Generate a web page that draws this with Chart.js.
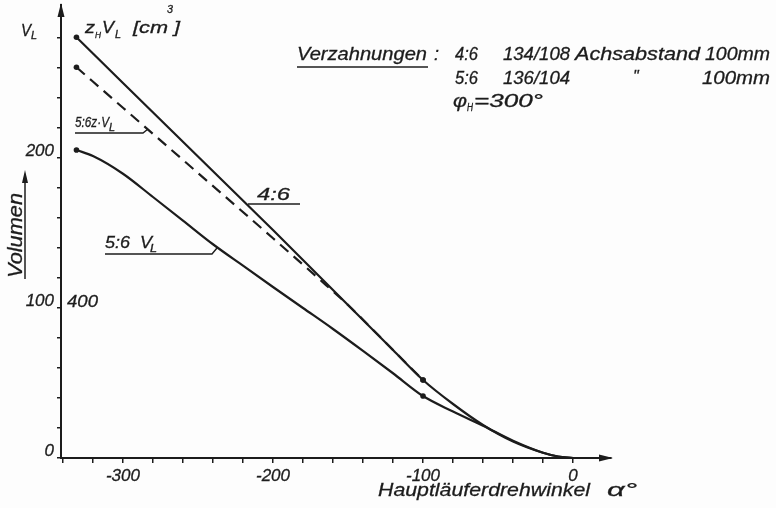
<!DOCTYPE html>
<html>
<head>
<meta charset="utf-8">
<script src="https://cdn.jsdelivr.net/npm/chart.js@4.4.1/dist/chart.umd.min.js"></script>
<style>
  html, body { margin: 0; padding: 0; background: #fdfdfd; }
  #wrap { width: 776px; height: 508px; }
</style>
</head>
<body>
<div id="wrap"><canvas id="chart" width="776" height="508"></canvas></div>
<script>
// Hauptläuferdrehwinkel α° -> Volumen V_L
const alpha46 = [-331, -300, -250, -200, -150, -120, -100, -80, -60, -40, -20, -10, 0];
const vl46    = [280.5, 250, 201, 152, 102, 72, 52, 36, 22, 11, 3.5, 1, 0];

// 5:6 z·V_L (dashed), runs into the 4:6 curve near -145
const alphaDash = [-331, -300, -250, -200, -170, -150, -120, -100];
const zvl56     = [260.5, 233.5, 190, 146.5, 120, 102, 72, 52];

// 5:6 V_L
const alpha56 = [-331, -320, -300, -280, -260, -240, -220, -200, -180, -160, -140, -120, -100, -80, -60, -40, -20, -10, 0];
const vl56    = [205.3, 201.3, 189.5, 174, 158.3, 142.5, 128.2, 114, 100, 86, 71.4, 56.5, 41.3, 31, 21.5, 11.5, 3.5, 1, 0];

const markAlpha = [-100];  // dots on the curves besides the start points

const xTickMarks = [-340, -320, -300, -280, -260, -240, -220, -200, -180, -160, -140, -120, -100, -80, -60, -40, -20, 0];
const yTickMarks = [0, 20, 40, 60, 80, 100, 120, 140, 160, 180, 200, 220, 240, 260, 280];
const xTickLabels = [-300, -200, -100, 0];
const yTickLabels = [0, 100, 200];

const INK = '#1c1c1c';
const FONT = '"Liberation Sans", Arial, sans-serif';

const pts = (xs, ys) => xs.map((x, i) => ({ x, y: ys[i] }));
const dotAt = (c) => (c.dataIndex === 0 || markAlpha.includes(c.raw.x)) ? 2.8 : 0;

// text squeezed/stretched to the width it has in the drawing
function txt(ctx, s, x, y, w, size) {
    ctx.font = `italic ${size}px ${FONT}`;
    const m = ctx.measureText(s).width;
    ctx.save();
    ctx.translate(x, y);
    if (w) ctx.scale(w / m, 1);
    ctx.lineWidth = 0.3;
    ctx.fillText(s, 0, 0);
    ctx.strokeText(s, 0, 0);
    ctx.restore();
}

function poly(ctx, p) {
    ctx.beginPath();
    ctx.moveTo(p[0][0], p[0][1]);
    for (let i = 1; i < p.length; i++) ctx.lineTo(p[i][0], p[i][1]);
    ctx.stroke();
}

function tri(ctx, p) {
    ctx.beginPath();
    ctx.moveTo(p[0][0], p[0][1]);
    ctx.lineTo(p[1][0], p[1][1]);
    ctx.lineTo(p[2][0], p[2][1]);
    ctx.closePath();
    ctx.fill();
}

// no extra room for the outer tick labels, the plot box is fixed
function fixBox(size, key) {
    return (s) => {
        s[key] = size;
        s.paddingTop = s.paddingBottom = s.paddingLeft = s.paddingRight = 0;
    };
}

const annot = {
    id: 'annot',
    afterDraw(chart) {
        const ctx = chart.ctx;
        const a = chart.chartArea;
        const ys = chart.scales.y;
        ctx.save();
        ctx.fillStyle = INK;
        ctx.strokeStyle = INK;
        ctx.lineWidth = 1.4;
        ctx.textBaseline = 'alphabetic';

        // axis arrows
        tri(ctx, [[a.left, a.top - 2], [a.left - 3.5, a.top + 12], [a.left + 3.5, a.top + 12]]);
        tri(ctx, [[a.right + 2, a.bottom], [a.right - 12, a.bottom - 3.5], [a.right - 12, a.bottom + 3.5]]);

        // axis heads
        txt(ctx, 'V', 21, 36, 10, 16);
        txt(ctx, 'L', 31, 39, 6, 10);
        txt(ctx, 'z', 85, 33, 10, 16);
        txt(ctx, 'H', 95, 38, 6, 9);
        txt(ctx, 'V', 102, 33, 12, 16);
        txt(ctx, 'L', 115, 38, 6, 10);
        txt(ctx, '[cm', 133, 33, 35, 17);
        txt(ctx, '3', 167, 13, 6, 11);
        txt(ctx, ']', 174, 33, 6, 17);

        // second scale (z_H V_L)
        txt(ctx, '400', 67, ys.getPixelForValue(100) - 1, 31, 17);

        // gear data block
        ctx.lineWidth = 1.4;
        txt(ctx, 'Verzahnungen', 297, 60, 130, 18);
        poly(ctx, [[297, 67], [428, 67]]);
        txt(ctx, ':', 434, 60, 0, 18);
        txt(ctx, '4:6', 455, 60, 23, 18);
        txt(ctx, '134/108', 503, 60, 67, 18);
        txt(ctx, 'Achsabstand', 575, 60, 125, 18);
        txt(ctx, '100mm', 705, 60, 65, 18);
        txt(ctx, '5:6', 455, 84, 23, 18);
        txt(ctx, '136/104', 503, 84, 67, 18);
        txt(ctx, '"', 633, 82, 0, 16);
        txt(ctx, '100mm', 702, 84, 68, 18);
        txt(ctx, 'φ', 453, 107, 14, 19);
        txt(ctx, 'H', 467, 111, 6, 10);
        txt(ctx, '=300°', 474, 107, 69, 18);

        // curve labels with leader lines
        ctx.lineWidth = 1.4;
        txt(ctx, '5:6z·V', 75, 127, 34, 15);
        txt(ctx, 'L', 109, 131, 6, 10);
        poly(ctx, [[75, 133], [143, 133], [148, 129]]);

        txt(ctx, '4:6', 257, 200, 33, 17);
        poly(ctx, [[248, 204], [300, 204]]);

        txt(ctx, '5:6  V', 105, 248, 47, 17);
        txt(ctx, 'L', 150, 252, 7, 10);
        poly(ctx, [[105, 254], [212, 254], [217, 248]]);

        // axis titles
        txt(ctx, 'Hauptläuferdrehwinkel', 378, 496, 212, 19);
        txt(ctx, 'α°', 607, 496, 30, 19);

        ctx.save();
        ctx.translate(22, 278);
        ctx.rotate(-Math.PI / 2);
        txt(ctx, 'Volumen', 0, 0, 85, 20);
        ctx.restore();
        ctx.lineWidth = 1.5;
        poly(ctx, [[25, 279], [25, 180]]);
        tri(ctx, [[25, 170], [22, 183], [28, 183]]);

        ctx.restore();
    }
};

const lineStyle = {
    borderColor: INK,
    backgroundColor: INK,
    borderWidth: 2.2,
    pointRadius: dotAt,
    pointHoverRadius: dotAt,
    pointBorderWidth: 0,
    cubicInterpolationMode: 'monotone',
    fill: false
};

const tickFont = { family: FONT, size: 17, style: 'italic' };

new Chart(document.getElementById('chart').getContext('2d'), {
    type: 'line',
    plugins: [annot],
    data: {
        datasets: [
            { label: '4:6', data: pts(alpha46, vl46), ...lineStyle },
            { label: '5:6 z·V_L', data: pts(alphaDash, zvl56), ...lineStyle, borderDash: [11, 7] },
            { label: '5:6 V_L', data: pts(alpha56, vl56), ...lineStyle }
        ]
    },
    options: {
        responsive: false,
        animation: false,
        layout: { padding: { left: 0, top: 5, right: 165, bottom: 0 } },
        plugins: { legend: { display: false }, tooltip: { enabled: false } },
        scales: {
            x: {
                type: 'linear',
                min: -341.3,
                max: 25.3,
                afterFit: fixBox(50, 'height'),
                afterBuildTicks: (s) => { s.ticks = xTickMarks.map(v => ({ value: v })); },
                border: { display: true, color: INK, width: 2 },
                grid: { drawOnChartArea: false, drawTicks: true, tickLength: 5, color: INK, lineWidth: 1.5 },
                ticks: {
                    autoSkip: false,
                    maxRotation: 0,
                    padding: 3,
                    color: INK,
                    textStrokeColor: INK,
                    textStrokeWidth: 0.3,
                    font: tickFont,
                    callback: (v) => xTickLabels.includes(v) ? String(v) : ''
                }
            },
            y: {
                type: 'linear',
                min: 0,
                max: 302,
                afterFit: fixBox(61, 'width'),
                afterBuildTicks: (s) => { s.ticks = yTickMarks.map(v => ({ value: v })); },
                border: { display: true, color: INK, width: 2 },
                grid: { drawOnChartArea: false, drawTicks: true, tickLength: 4, color: INK, lineWidth: 1.5 },
                ticks: {
                    autoSkip: false,
                    padding: 3,
                    labelOffset: -7,
                    color: INK,
                    textStrokeColor: INK,
                    textStrokeWidth: 0.3,
                    font: tickFont,
                    callback: (v) => yTickLabels.includes(v) ? String(v) : ''
                }
            }
        }
    }
});
</script>
</body>
</html>
